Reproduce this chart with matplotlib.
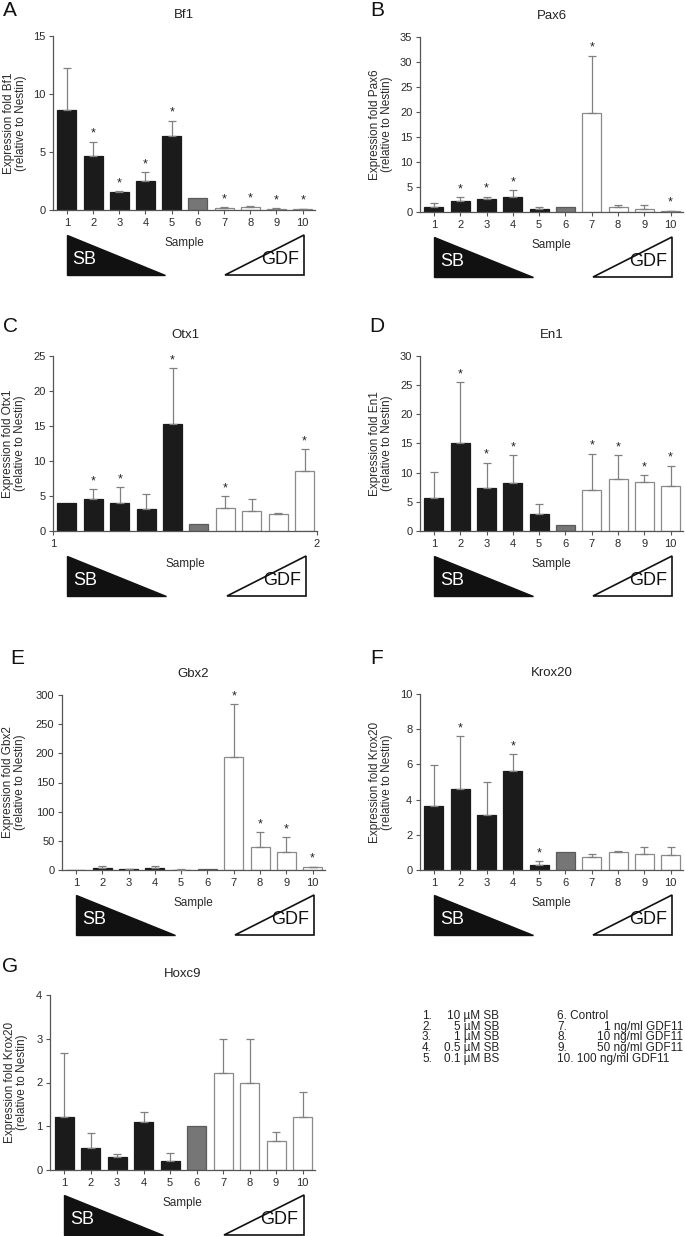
import numpy as np
import matplotlib
matplotlib.use('Agg')
import matplotlib.pyplot as plt
import matplotlib.transforms as mtransforms
from matplotlib.patches import Polygon

plt.rcParams['font.family'] = ['Liberation Sans', 'DejaVu Sans']

W, H = 685, 1236
samples = np.arange(1, 11)
sample_labels = [str(s) for s in samples]

# mean expression and upper error per sample (1-5 SB, 6 control, 7-10 GDF11)
bf1 = [8.6, 4.67, 1.55, 2.52, 6.39, 1.0, 0.2, 0.29, 0.11, 0.09]
bf1_err = [3.6, 1.2, 0.08, 0.72, 1.29, 0, 0.05, 0.06, 0.02, 0.02]
bf1_sig = [2, 3, 4, 5, 7, 8, 9, 10]

pax6 = [0.93, 2.13, 2.6, 3.0, 0.53, 1.0, 19.87, 0.93, 0.67, 0.2]
pax6_err = [0.94, 0.8, 0.47, 1.4, 0.47, 0, 11.4, 0.54, 0.8, 0.07]
pax6_sig = [2, 3, 4, 7, 10]

otx1 = [4.04, 4.56, 4.04, 3.18, 15.26, 1.0, 3.28, 2.8, 2.42, 8.6]
otx1_err = [0, 1.43, 2.23, 2.14, 7.98, 0, 1.71, 1.81, 0.1, 3.09]
otx1_sig = [2, 3, 5, 7, 10]

en1 = [5.63, 15.03, 7.34, 8.31, 2.9, 1.0, 7.11, 8.88, 8.37, 7.63]
en1_err = [4.44, 10.52, 4.38, 4.67, 1.71, 0, 6.15, 4.1, 1.19, 3.58]
en1_sig = [2, 3, 4, 7, 8, 9, 10]

gbx2 = [0.5, 2.9, 1.1, 3.4, 0.6, 1.0, 194.3, 40.0, 30.3, 4.6]
gbx2_err = [0, 4.5, 1.2, 4.0, 1.1, 0, 89.7, 24.6, 25.7, 1.1]
gbx2_sig = [7, 8, 9, 10]

krox20 = [3.66, 4.58, 3.13, 5.61, 0.28, 1.0, 0.76, 1.0, 0.91, 0.85]
krox20_err = [2.33, 3.03, 1.89, 0.96, 0.23, 0, 0.15, 0.08, 0.4, 0.48]
krox20_sig = [2, 4, 5]

hoxc9 = [1.22, 0.51, 0.29, 1.1, 0.2, 1.0, 2.21, 1.98, 0.66, 1.21]
hoxc9_err = [1.45, 0.33, 0.07, 0.23, 0.2, 0, 0.79, 1.01, 0.21, 0.57]
hoxc9_sig = []

legend_left = [('1.', '10 µM SB'), ('2.', '5 µM SB'), ('3.', '1 µM SB'),
               ('4.', '0.5 µM SB'), ('5.', '0.1 µM BS')]
legend_right = [('6. Control', ''), ('7.', '1 ng/ml GDF11'), ('8.', '10 ng/ml GDF11'),
                ('9.', '50 ng/ml GDF11'), ('10. 100 ng/ml GDF11', '')]

bar_colors = ['#1b1b1b'] * 5 + ['#767676'] + ['white'] * 4
edge_colors = ['#1b1b1b'] * 5 + ['#5a5a5a'] + ['#8a8a8a'] * 4

# letter, gene, ylabel gene, values, errors, sig, yticks, left, right, top, bottom (px), letter pos, ylabel x
panels = [
    ('A', 'Bf1', 'Bf1', bf1, bf1_err, bf1_sig, np.arange(0, 16, 5), 53, 315, 36, 210, (10, 11), 15),
    ('B', 'Pax6', 'Pax6', pax6, pax6_err, pax6_sig, np.arange(0, 36, 5), 420, 683, 37, 212, (377, 11), 381),
    ('C', 'Otx1', 'Otx1', otx1, otx1_err, otx1_sig, np.arange(0, 26, 5), 53, 317, 356, 531, (10, 326), 14),
    ('D', 'En1', 'En1', en1, en1_err, en1_sig, np.arange(0, 31, 5), 420, 683, 356, 531, (377, 326), 381),
    ('E', 'Gbx2', 'Gbx2', gbx2, gbx2_err, gbx2_sig, np.arange(0, 301, 50), 62, 325, 695, 870, (17, 659), 14),
    ('F', 'Krox20', 'Krox20', krox20, krox20_err, krox20_sig, np.arange(0, 11, 2), 420, 683, 694, 870, (377, 659), 381),
    ('G', 'Hoxc9', 'Krox20', hoxc9, hoxc9_err, hoxc9_sig, np.arange(0, 5, 1), 50, 315, 995, 1170, (10, 967), 16),
]

fig = plt.figure(figsize=(W / 100, H / 100), dpi=100)
axis_col = '#555555'

for letter, gene, ylab_gene, vals, errs, sig, yticks, l, r, t, b, lpos, ylx in panels:
    ax = fig.add_axes([l / W, 1 - b / H, (r - l) / W, (b - t) / H])
    hpx = b - t
    ax.bar(samples, vals, width=0.72, color=bar_colors, edgecolor=edge_colors,
           linewidth=0.9, zorder=2)
    vals_a = np.array(vals)
    errs_a = np.array(errs)
    m = errs_a > 0
    ax.errorbar(samples[m], vals_a[m], yerr=[np.zeros(m.sum()), errs_a[m]], fmt='none',
                ecolor='#808080', elinewidth=0.9, capsize=2.6, capthick=0.9, zorder=3)
    for s in sig:
        top = vals[s - 1] + errs[s - 1]
        ax.annotate('*', (s, top), xytext=(0, 5), textcoords='offset pixels',
                    ha='center', va='baseline', fontsize=9, color='#222222')
    ax.set_xlim(0.47, 10.47)
    ax.set_ylim(0, yticks[-1])
    ax.set_yticks(yticks)
    if letter == 'C':
        ax.set_xticks([0.47, 10.47])
        ax.set_xticklabels(['1', '2'])
    else:
        ax.set_xticks(samples)
        ax.set_xticklabels(sample_labels)
    for sp in ['top', 'right']:
        ax.spines[sp].set_visible(False)
    for sp in ['left', 'bottom']:
        ax.spines[sp].set_color(axis_col)
        ax.spines[sp].set_linewidth(0.9)
    ax.tick_params(axis='both', length=3, width=0.8, color=axis_col, labelsize=8,
                   labelcolor='#2a2a2a', pad=2.5)
    ax.set_facecolor('none')

    # title, sample label, y label
    cx = (l + r) / 2
    fig.text(cx / W, 1 - (t - 21) / H, gene, ha='center', va='center', fontsize=9.5, color='#222222')
    ax.text(0.5, -33 / hpx, 'Sample', transform=ax.transAxes, ha='center', va='center',
            fontsize=8.5, color='#2a2a2a')
    fig.text(ylx / W, 1 - (t + b) / 2 / H,
             'Expression fold %s\n(relative to Nestin)' % ylab_gene,
             rotation=90, ha='center', va='center', ma='center', fontsize=8.5,
             linespacing=1.1, color='#2a2a2a')
    fig.text(lpos[0] / W, 1 - lpos[1] / H, letter, ha='center', va='center', fontsize=15,
             color='#111111')

    # concentration wedges under the axis
    tr = mtransforms.blended_transform_factory(ax.transData, ax.transAxes)
    y_top = -25 / hpx
    y_bot = -65 / hpx
    sb = Polygon([(1.0, y_top), (1.0, y_bot), (4.75, y_bot)], closed=True,
                 facecolor='#111111', edgecolor='#111111', transform=tr, clip_on=False)
    gdf = Polygon([(7.05, y_bot), (10.05, y_bot), (10.05, y_top)], closed=True,
                  facecolor='white', edgecolor='#111111', linewidth=1.2, transform=tr,
                  clip_on=False)
    ax.add_patch(sb)
    ax.add_patch(gdf)
    ax.text(1.22, -50 / hpx, 'SB', transform=tr, ha='left', va='center', fontsize=13,
            color='white')
    ax.text(9.85, -50 / hpx, 'GDF', transform=tr, ha='right', va='center', fontsize=13,
            color='#111111')

# treatment key
row_y = [1016, 1027, 1037, 1048, 1059]
for (num, txt), y in zip(legend_left, row_y):
    fig.text(422 / W, 1 - y / H, num, ha='left', va='center', fontsize=8.5, color='#222222')
    fig.text(499 / W, 1 - y / H, txt, ha='right', va='center', fontsize=8.5, color='#222222')
for (num, txt), y in zip(legend_right, row_y):
    fig.text(557 / W, 1 - y / H, num, ha='left', va='center', fontsize=8.5, color='#222222')
    if txt:
        fig.text(683 / W, 1 - y / H, txt, ha='right', va='center', fontsize=8.5, color='#222222')

fig.savefig('out.png', dpi=100)
